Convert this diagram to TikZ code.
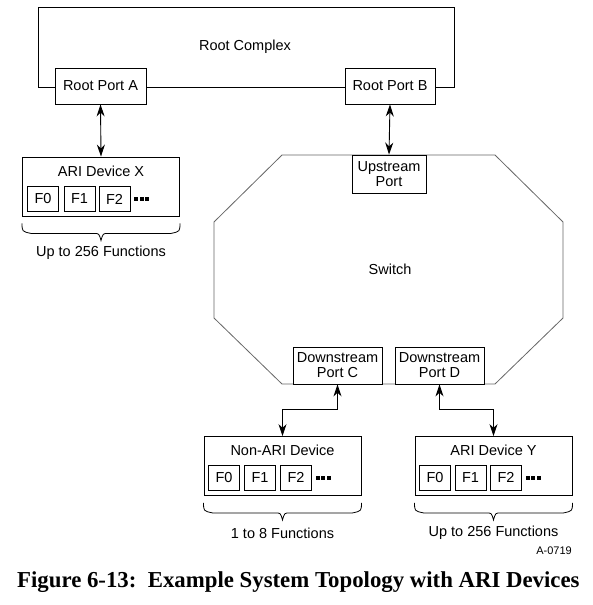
\documentclass[tikz,border=0pt]{standalone}
\usepackage{fontspec}
\setmainfont{Liberation Sans}
\newfontfamily\capfont{Liberation Serif}
\usetikzlibrary{arrows.meta,calc}

\tikzset{
  txt/.style={font=\fontsize{14.5}{15}\selectfont, align=center, inner sep=0pt},
  portbox/.style={txt, draw, fill=white, line width=0.9pt},
  devbox/.style={draw, line width=0.9pt, minimum width=157pt, minimum height=59pt, inner sep=0pt},
  fnbox/.style={txt, draw, line width=0.9pt, minimum width=31pt, minimum height=25pt},
  link/.style={line width=0.9pt, {Stealth[length=12pt,width=8pt]}-{Stealth[length=12pt,width=8pt]}},
  fnline/.style={line width=0.8pt},
}
\newcommand{\funcbrace}[1]{%
  \draw [fnline] let \p1=(#1.south west), \p2=(#1.south east), \n1={0.5*(\x1+\x2)} in
    (\x1,\y1-7pt) .. controls (\x1,\y1-15pt) .. (\x1+9pt,\y1-17pt)
    -- (\n1-7pt,\y1-17pt) .. controls (\n1-2pt,\y1-17pt) .. (\n1,\y1-24pt)
    .. controls (\n1+2pt,\y1-17pt) .. (\n1+7pt,\y1-17pt)
    -- (\x2-9pt,\y1-17pt) .. controls (\x2,\y1-15pt) .. (\x2,\y1-7pt);}

\begin{document}
\begin{tikzpicture}[%
      x=1pt, y=-1pt,
      ]
      \useasboundingbox (0,0) rectangle (592,605);

      % root complex
      \draw [color=black, line width=0.9pt] (38,87) -- (38,7) -- (454,7) -- (454,87) -- cycle;
      \node [txt] (rc) at (245,47) {Root Complex};
      \node [portbox, minimum width=91pt, minimum height=36pt] (portA) at (100.5,86) {Root Port A};
      \node [portbox, minimum width=90pt, minimum height=36pt] (portB) at (390,86) {Root Port B};

      % switch
      \draw [color=gray!80!black, line width=0.8pt] (282,155) -- (495,155) -- (563,222) -- (563,318)
            -- (495,384) -- (282,384) -- (214,318) -- (214,222) -- cycle;
      \node [txt] (sw) at (390,269) {Switch};
      \node [portbox, minimum width=74pt, minimum height=38pt] (up) at (389,174) {Upstream\\Port};
      \node [portbox, minimum width=89pt, minimum height=37pt] (dsC) at (337.5,365.5) {Downstream\\Port C};
      \node [portbox, minimum width=89pt, minimum height=37pt] (dsD) at (439.5,365.5) {Downstream\\Port D};

      % devices
      \node [devbox] (devX) at (101,186.5) {};
      \node [txt] at (101,171) {ARI Device X};
      \node [fnbox] (x0) at (43,199) {F0};
      \node [fnbox] (x1) at (79.5,199) {F1};
      \node [fnbox] (x2) at (114.5,199) {F2};

      \node [devbox] (nonari) at (282.5,466) {};
      \node [txt] at (282.5,450.5) {Non-ARI Device};
      \node [fnbox] (n0) at (224,477.5) {F0};
      \node [fnbox] (n1) at (260,477.5) {F1};
      \node [fnbox] (n2) at (296,477.5) {F2};

      \node [devbox] (devY) at (493.5,466) {};
      \node [txt] at (493.5,450.5) {ARI Device Y};
      \node [fnbox] (y0) at (435,477.5) {F0};
      \node [fnbox] (y1) at (470.5,477.5) {F1};
      \node [fnbox] (y2) at (506,477.5) {F2};

      \foreach \b in {x2,n2,y2} {
        \foreach \i in {0,1,2}
          \fill [black] ($(\b.east)+(4+5.5*\i,-2)$) rectangle ++(4,4);
      }

      % links
      \draw [link] (portA.south) -- (devX.north);
      \draw [link] (portB.south) -- (up.north);
      \draw [link] (dsC.south) -- ++(0,25) -| (nonari.north);
      \draw [link] (dsD.south) -- ++(0,25) -| (devY.north);

      % braces
      \funcbrace{devX}
      \funcbrace{nonari}
      \funcbrace{devY}
      \node [txt] (fx) at (101,253) {Up to 256 Functions};
      \node [txt] (fn) at (282.5,533) {1 to 8 Functions};
      \node [txt] (fy) at (493.5,533) {Up to 256 Functions};

      \node [font=\fontsize{11}{11}\selectfont, inner sep=0pt] (code) at (554,551) {A-0719};
      \node [anchor=base west, inner sep=0pt, font=\capfont\bfseries\fontsize{22.8}{23}\selectfont] (cap) at (17,587)
            {Figure 6-13:\ \ Example System Topology with ARI Devices};
      \end{tikzpicture}
\end{document}
